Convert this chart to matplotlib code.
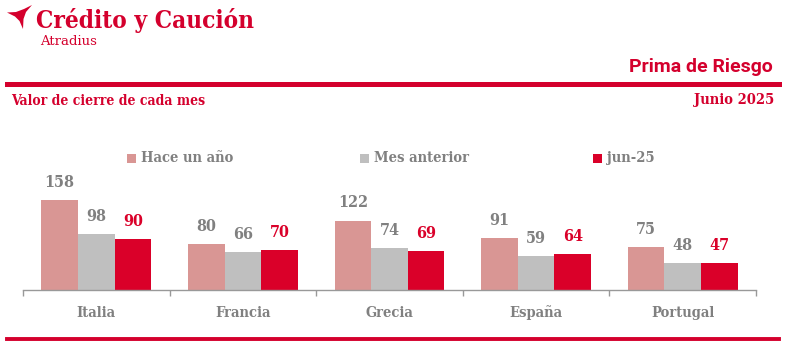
import numpy as np
from matplotlib import pyplot as plt
from matplotlib.patches import Polygon, Rectangle
from matplotlib.lines import Line2D

# Data
countries = ['Italia', 'Francia', 'Grecia', 'España', 'Portugal']
series_names = ['Hace un año', 'Mes anterior', 'jun-25']
hace_un_ano = [158, 80, 122, 91, 75]
mes_anterior = [98, 66, 74, 59, 48]
jun_25 = [90, 70, 69, 64, 47]

# Styles
W, H = 792, 351
RED = '#D4002D'
BAR_COLORS = ['#D99694', '#BFBFBF', '#DA0029']
LABEL_COLORS = ['#808080', '#808080', '#DA0029']
GRAY = '#808080'
SLAB = dict(family='DejaVu Serif', weight='bold', stretch='condensed')


def fx(x):
    return x / W


def fy(y):
    return 1 - y / H


fig = plt.figure(figsize=(W / 100, H / 100), dpi=100)

# Header
logo = [(7, 12.5), (16, 12), (24, 9), (32, 5), (26, 12), (23.5, 19), (23, 29),
        (19.5, 21), (15, 16.5)]
fig.add_artist(Polygon([(fx(a), fy(b)) for a, b in logo], closed=True,
                       transform=fig.transFigure, color=RED, lw=0))
fig.text(fx(36), fy(28), 'Crédito y Caución', fontsize=17.5, color=RED,
         va='baseline', **SLAB)
fig.text(fx(40), fy(45), 'Atradius', family='DejaVu Serif', fontsize=9.5,
         color=RED, va='baseline')
fig.text(fx(773), fy(72), 'Prima de Riesgo', family='Roboto', weight='bold',
         fontsize=14, color=RED, ha='right', va='baseline')
fig.text(fx(11), fy(105), 'Valor de cierre de cada mes', fontsize=10,
         color=RED, va='baseline', **SLAB)
fig.text(fx(774), fy(104), 'Junio 2025', fontsize=10.5, color=RED,
         ha='right', va='baseline', **SLAB)

# Rules
fig.add_artist(Line2D([fx(7), fx(779)], [fy(83.5), fy(83.5)],
                      transform=fig.transFigure, color=RED, lw=3.6))
fig.add_artist(Line2D([fx(7), fx(779)], [fy(338.5), fy(338.5)],
                      transform=fig.transFigure, color=RED, lw=2.8))

# Legend (manual, evenly spaced)
for i, name in enumerate(series_names):
    x0 = 127 + i * 233
    fig.add_artist(Rectangle((fx(x0), fy(163)), fx(9), 9 / H,
                             transform=fig.transFigure, color=BAR_COLORS[i], lw=0))
    fig.text(fx(x0 + 14), fy(158), name, fontsize=10.5, color=GRAY,
             va='center', **SLAB)

# Chart
ymax = 170
ax = fig.add_axes([fx(23), fy(290), fx(756 - 23), ymax * 0.5696 / H])
x = np.arange(len(countries))
width = 0.25
for i, vals in enumerate([hace_un_ano, mes_anterior, jun_25]):
    pos = x + (i - 1) * width
    ax.bar(pos, vals, width, color=BAR_COLORS[i])
    for p, v in zip(pos, vals):
        ax.annotate(str(v), xy=(p, v), xytext=(0, 6.5), textcoords='offset points',
                    ha='center', va='bottom', fontsize=11.5,
                    color=LABEL_COLORS[i], annotation_clip=False, **SLAB)

ax.set_xlim(-0.5, len(countries) - 0.5)
ax.set_ylim(0, ymax)
ax.set_xticks(x)
ax.set_xticklabels(countries, fontsize=10.5, color=GRAY, va='baseline', **SLAB)
ax.set_xticks(np.arange(-0.5, len(countries), 1), minor=True)
ax.tick_params(axis='x', which='major', length=0, pad=19.5)
ax.tick_params(axis='x', which='minor', length=4, color='#999999', width=1)
ax.set_yticks([])
for s in ['top', 'left', 'right']:
    ax.spines[s].set_visible(False)
ax.spines['bottom'].set_color('#999999')
ax.spines['bottom'].set_linewidth(1)
ax.patch.set_visible(False)

plt.savefig('out.png', dpi=100)
